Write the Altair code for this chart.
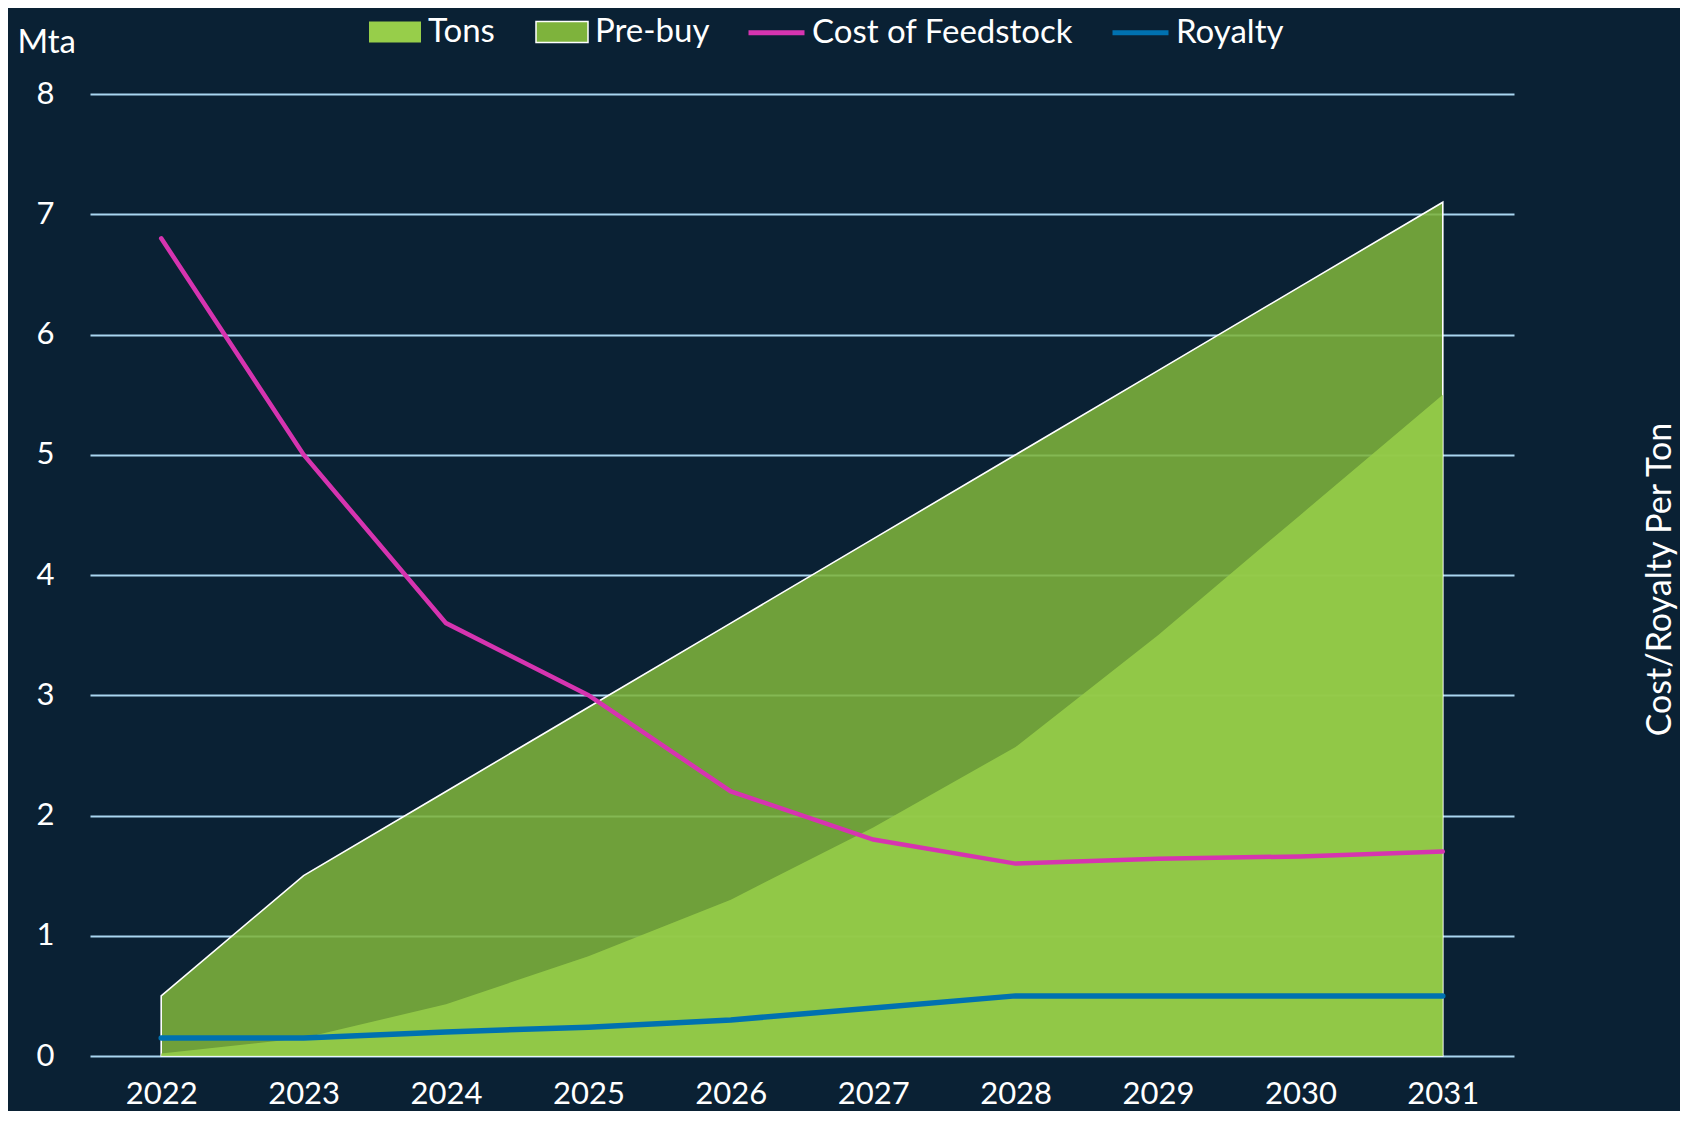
import altair as alt
import pandas as pd

years = ["2022", "2023", "2024", "2025", "2026", "2027", "2028", "2029", "2030", "2031"]
tons = [0.02, 0.15, 0.43, 0.83, 1.30, 1.90, 2.57, 3.50, 4.50, 5.50]
prebuy = [0.50, 1.50, 2.20, 2.90, 3.60, 4.30, 5.00, 5.70, 6.40, 7.10]
cost = [6.80, 5.00, 3.60, 3.00, 2.20, 1.80, 1.60, 1.64, 1.66, 1.70]
royalty = [0.15, 0.15, 0.20, 0.24, 0.30, 0.40, 0.50, 0.50, 0.50, 0.50]
y_ticks = [0, 1, 2, 3, 4, 5, 6, 7, 8]
area_names = ["Tons", "Pre-buy"]
line_names = ["Cost of Feedstock", "Royalty"]

area_df = pd.DataFrame({
    "year": years * 2,
    "series": ["Tons"] * len(years) + ["Pre-buy"] * len(years),
    "value": tons + prebuy,
})
line_df = pd.DataFrame({
    "year": years * 2,
    "line": ["Cost of Feedstock"] * len(years) + ["Royalty"] * len(years),
    "value": cost + royalty,
})

FONT = "Lato, Open Sans, sans-serif"
GRID = "#a9d6f0"
BG = "#0a2134"
TONS_C = "#97ce4a"
PRE_C = "#7eb33c"
MAGENTA = "#d634b0"
BLUE = "#0071b0"

x_enc = alt.X(
    "year:O",
    sort=years,
    scale=alt.Scale(type="point", padding=0.5),
    axis=alt.Axis(
        title=None, grid=False, domain=False, ticks=False, labelAngle=0,
        labelFont=FONT, labelFontSize=31, labelColor="white", labelPadding=23,
    ),
)

y_left = alt.Y(
    "value:Q",
    scale=alt.Scale(domain=[0, 8], nice=False),
    axis=alt.Axis(
        values=y_ticks, grid=True, gridColor=GRID, gridWidth=1.8, domain=False,
        ticks=False, labelFont=FONT, labelFontSize=31, labelColor="white",
        labelPadding=36, title="Mta", titleAngle=0, titleX=-73, titleY=-42,
        titleAlign="left", titleBaseline="alphabetic", titleFont=FONT,
        titleFontSize=33, titleFontWeight="normal", titleColor="white",
    ),
)

area_legend = alt.Legend(
    orient="none", legendX=278, legendY=-89, direction="horizontal", title=None,
    symbolType="M-1,-0.4H1V0.4H-1Z", symbolSize=2704, symbolStrokeWidth=1.5,
    symbolStrokeColor=alt.ExprRef(expr="datum.value === 'Pre-buy' ? 'white' : 'transparent'"),
    symbolOpacity=1, labelFont=FONT, labelFontSize=33, labelColor="white",
    labelOffset=6, columnPadding=38, labelLimit=400,
)

fill_enc = alt.Fill(
    "series:N", scale=alt.Scale(domain=area_names, range=[TONS_C, PRE_C]),
    legend=area_legend,
)
stroke_area_enc = alt.Stroke(
    "series:N", scale=alt.Scale(domain=area_names, range=["transparent", "white"]),
    legend=None,
)

base_area = alt.Chart(area_df).mark_area(fillOpacity=0.87, strokeWidth=1.6).encode(
    x=x_enc, y=y_left, fill=fill_enc, stroke=stroke_area_enc
)
pre_area = base_area.transform_filter(alt.datum.series == "Pre-buy")
tons_area = base_area.transform_filter(alt.datum.series == "Tons")
areas = alt.layer(pre_area, tons_area)

y_right = alt.Y(
    "value:Q",
    scale=alt.Scale(domain=[0, 8], nice=False),
    axis=alt.Axis(
        orient="right", labels=False, ticks=False, domain=False, grid=False,
        title="Cost/Royalty Per Ton", titleAngle=270, titleX=156, titleY=485,
        titleAlign="center", titleBaseline="alphabetic", titleFont=FONT,
        titleFontSize=34, titleFontWeight="normal", titleColor="white",
    ),
)

line_legend = alt.Legend(
    orient="none", legendX=656, legendY=-92, direction="horizontal", title=None,
    symbolType="stroke", symbolSize=3136, symbolStrokeWidth=5,
    labelFont=FONT, labelFontSize=33, labelColor="white", labelOffset=5,
    columnPadding=28, labelLimit=400,
)
stroke_line_enc = alt.Stroke(
    "line:N", scale=alt.Scale(domain=line_names, range=[MAGENTA, BLUE]),
    legend=line_legend,
)

base_line = alt.Chart(line_df).encode(x=x_enc, y=y_right, stroke=stroke_line_enc)
cost_line = base_line.transform_filter(alt.datum.line == "Cost of Feedstock").mark_line(
    strokeWidth=4.5, strokeCap="round")
roy_line = base_line.transform_filter(alt.datum.line == "Royalty").mark_line(
    strokeWidth=5.5, strokeCap="round")
lines = alt.layer(cost_line, roy_line)

chart = alt.layer(areas, lines).resolve_scale(
    y="independent", stroke="independent"
).properties(
    width=1424, height=962,
    autosize=alt.AutoSizeParams(type="none"),
    padding={"left": 82, "top": 86, "right": 166, "bottom": 55},
).configure(background=BG).configure_view(stroke=None)

chart.save("out.html", embed_options={"renderer": "svg", "actions": False})
